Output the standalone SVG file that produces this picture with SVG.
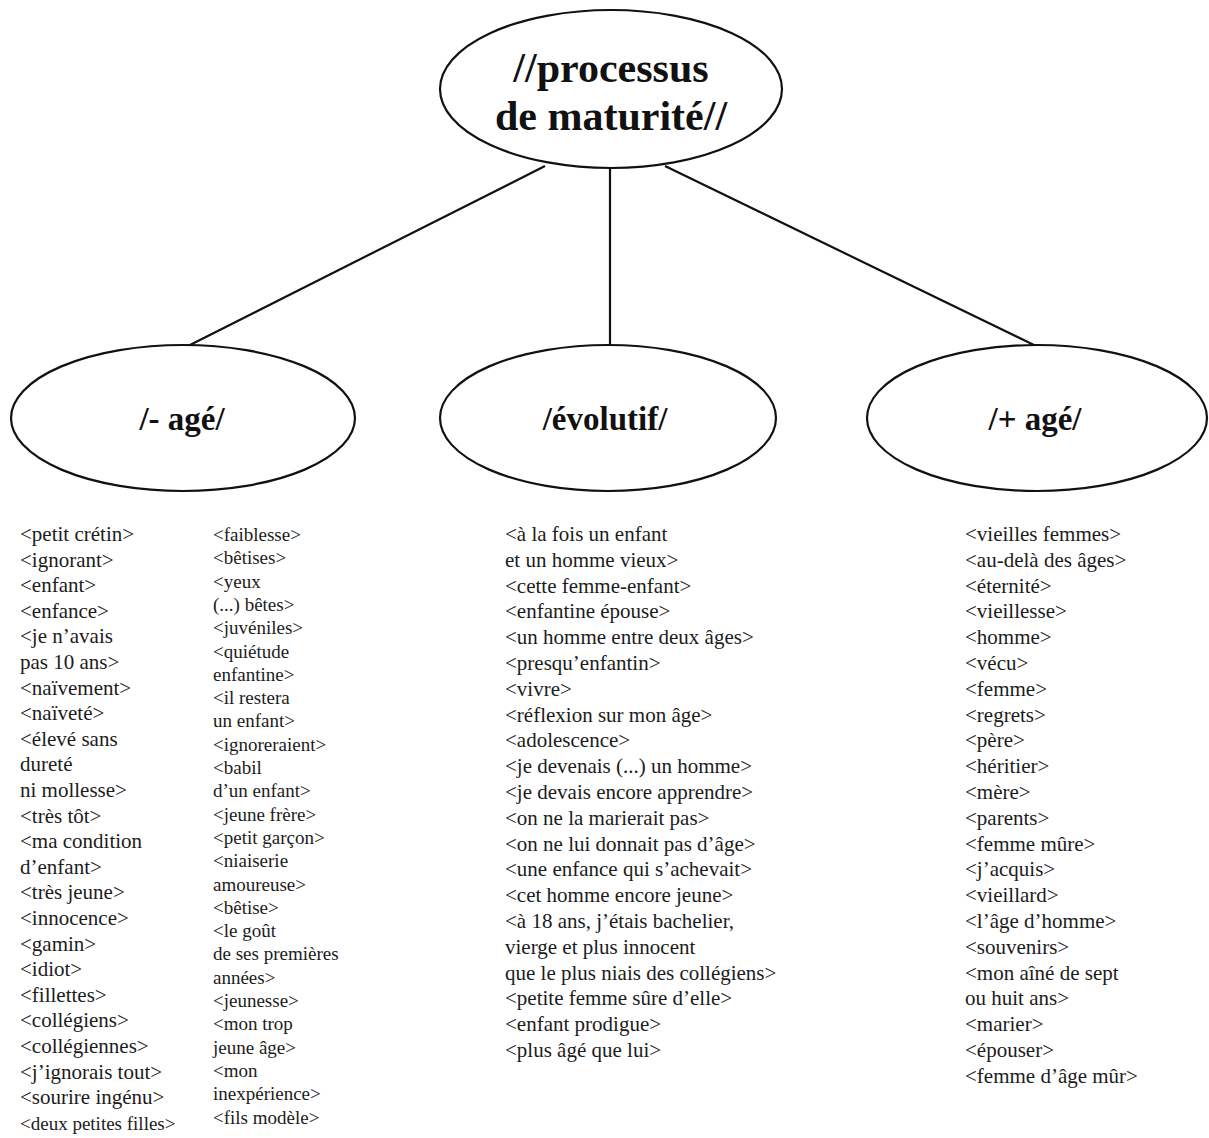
<svg xmlns="http://www.w3.org/2000/svg" width="1209" height="1138" viewBox="0 0 1209 1138">
<style>
.node{fill:#fff;stroke:#111;stroke-width:2.2}
.edge{stroke:#111;stroke-width:2.2;fill:none}
.title{font-family:"Liberation Serif","Times New Roman",serif;font-weight:bold;fill:#111;text-anchor:middle}
.t1{font-size:42px}
.t2{font-size:33px}
.lst{font-family:"Liberation Serif","Times New Roman",serif;font-size:21px;fill:#1c1c1c}
.lst2{font-family:"Liberation Serif","Times New Roman",serif;font-size:19px;fill:#1c1c1c}
</style>
<rect width="1209" height="1138" fill="#fff"/>
<g id="connectors">
<line class="edge" x1="545" y1="166" x2="188" y2="346"/>
<line class="edge" x1="610" y1="168" x2="610" y2="345"/>
<line class="edge" x1="665" y1="166" x2="1036" y2="346"/>
</g>
<g id="node-root">
<ellipse class="node" cx="611" cy="89" rx="171" ry="79"/>
<text class="title t1" x="611" y="82">//processus</text>
<text class="title t1" x="611" y="130">de maturité//</text>
</g>
<g id="node-moins-age">
<ellipse class="node" cx="183" cy="418" rx="172" ry="73"/>
<text class="title t2" x="182" y="430">/- agé/</text>
</g>
<g id="node-evolutif">
<ellipse class="node" cx="608" cy="418" rx="168" ry="73"/>
<text class="title t2" x="605" y="430">/évolutif/</text>
</g>
<g id="node-plus-age">
<ellipse class="node" cx="1037" cy="418" rx="170" ry="73"/>
<text class="title t2" x="1035" y="430">/+ agé/</text>
</g>
<g id="list-moins-age-1" class="lst">
<text x="20" y="541">&lt;petit crétin&gt;</text>
<text x="20" y="566.6">&lt;ignorant&gt;</text>
<text x="20" y="592.2">&lt;enfant&gt;</text>
<text x="20" y="617.8">&lt;enfance&gt;</text>
<text x="20" y="643.4">&lt;je n’avais</text>
<text x="20" y="669">pas 10 ans&gt;</text>
<text x="20" y="694.6">&lt;naïvement&gt;</text>
<text x="20" y="720.2">&lt;naïveté&gt;</text>
<text x="20" y="745.8">&lt;élevé sans</text>
<text x="20" y="771.4">dureté</text>
<text x="20" y="797">ni mollesse&gt;</text>
<text x="20" y="822.6">&lt;très tôt&gt;</text>
<text x="20" y="848.2">&lt;ma condition</text>
<text x="20" y="873.8">d’enfant&gt;</text>
<text x="20" y="899.4">&lt;très jeune&gt;</text>
<text x="20" y="925">&lt;innocence&gt;</text>
<text x="20" y="950.6">&lt;gamin&gt;</text>
<text x="20" y="976.2">&lt;idiot&gt;</text>
<text x="20" y="1001.8">&lt;fillettes&gt;</text>
<text x="20" y="1027.4">&lt;collégiens&gt;</text>
<text x="20" y="1053">&lt;collégiennes&gt;</text>
<text x="20" y="1078.6">&lt;j’ignorais tout&gt;</text>
<text x="20" y="1104.2">&lt;sourire ingénu&gt;</text>
<text x="20" y="1129.8" class="lst2">&lt;deux petites filles&gt;</text>
</g>
<g id="list-moins-age-2" class="lst2">
<text x="213" y="541">&lt;faiblesse&gt;</text>
<text x="213" y="564.3">&lt;bêtises&gt;</text>
<text x="213" y="587.6">&lt;yeux</text>
<text x="213" y="610.9">(...) bêtes&gt;</text>
<text x="213" y="634.2">&lt;juvéniles&gt;</text>
<text x="213" y="657.5">&lt;quiétude</text>
<text x="213" y="680.8">enfantine&gt;</text>
<text x="213" y="704.1">&lt;il restera</text>
<text x="213" y="727.4">un enfant&gt;</text>
<text x="213" y="750.7">&lt;ignoreraient&gt;</text>
<text x="213" y="774">&lt;babil</text>
<text x="213" y="797.3">d’un enfant&gt;</text>
<text x="213" y="820.6">&lt;jeune frère&gt;</text>
<text x="213" y="843.9">&lt;petit garçon&gt;</text>
<text x="213" y="867.2">&lt;niaiserie</text>
<text x="213" y="890.5">amoureuse&gt;</text>
<text x="213" y="913.8">&lt;bêtise&gt;</text>
<text x="213" y="937.1">&lt;le goût</text>
<text x="213" y="960.4">de ses premières</text>
<text x="213" y="983.7">années&gt;</text>
<text x="213" y="1007">&lt;jeunesse&gt;</text>
<text x="213" y="1030.3">&lt;mon trop</text>
<text x="213" y="1053.6">jeune âge&gt;</text>
<text x="213" y="1076.9">&lt;mon</text>
<text x="213" y="1100.2">inexpérience&gt;</text>
<text x="213" y="1123.5">&lt;fils modèle&gt;</text>
</g>
<g id="list-evolutif" class="lst">
<text x="505" y="541">&lt;à la fois un enfant</text>
<text x="505" y="566.8">et un homme vieux&gt;</text>
<text x="505" y="592.6">&lt;cette femme-enfant&gt;</text>
<text x="505" y="618.4">&lt;enfantine épouse&gt;</text>
<text x="505" y="644.2">&lt;un homme entre deux âges&gt;</text>
<text x="505" y="670">&lt;presqu’enfantin&gt;</text>
<text x="505" y="695.8">&lt;vivre&gt;</text>
<text x="505" y="721.6">&lt;réflexion sur mon âge&gt;</text>
<text x="505" y="747.4">&lt;adolescence&gt;</text>
<text x="505" y="773.2">&lt;je devenais (...) un homme&gt;</text>
<text x="505" y="799">&lt;je devais encore apprendre&gt;</text>
<text x="505" y="824.8">&lt;on ne la marierait pas&gt;</text>
<text x="505" y="850.6">&lt;on ne lui donnait pas d’âge&gt;</text>
<text x="505" y="876.4">&lt;une enfance qui s’achevait&gt;</text>
<text x="505" y="902.2">&lt;cet homme encore jeune&gt;</text>
<text x="505" y="928">&lt;à 18 ans, j’étais bachelier,</text>
<text x="505" y="953.8">vierge et plus innocent</text>
<text x="505" y="979.6">que le plus niais des collégiens&gt;</text>
<text x="505" y="1005.4">&lt;petite femme sûre d’elle&gt;</text>
<text x="505" y="1031.2">&lt;enfant prodigue&gt;</text>
<text x="505" y="1057">&lt;plus âgé que lui&gt;</text>
</g>
<g id="list-plus-age" class="lst">
<text x="965" y="541">&lt;vieilles femmes&gt;</text>
<text x="965" y="566.8">&lt;au-delà des âges&gt;</text>
<text x="965" y="592.6">&lt;éternité&gt;</text>
<text x="965" y="618.4">&lt;vieillesse&gt;</text>
<text x="965" y="644.2">&lt;homme&gt;</text>
<text x="965" y="670">&lt;vécu&gt;</text>
<text x="965" y="695.8">&lt;femme&gt;</text>
<text x="965" y="721.6">&lt;regrets&gt;</text>
<text x="965" y="747.4">&lt;père&gt;</text>
<text x="965" y="773.2">&lt;héritier&gt;</text>
<text x="965" y="799">&lt;mère&gt;</text>
<text x="965" y="824.8">&lt;parents&gt;</text>
<text x="965" y="850.6">&lt;femme mûre&gt;</text>
<text x="965" y="876.4">&lt;j’acquis&gt;</text>
<text x="965" y="902.2">&lt;vieillard&gt;</text>
<text x="965" y="928">&lt;l’âge d’homme&gt;</text>
<text x="965" y="953.8">&lt;souvenirs&gt;</text>
<text x="965" y="979.6">&lt;mon aîné de sept</text>
<text x="965" y="1005.4">ou huit ans&gt;</text>
<text x="965" y="1031.2">&lt;marier&gt;</text>
<text x="965" y="1057">&lt;épouser&gt;</text>
<text x="965" y="1082.8">&lt;femme d’âge mûr&gt;</text>
</g>
</svg>
